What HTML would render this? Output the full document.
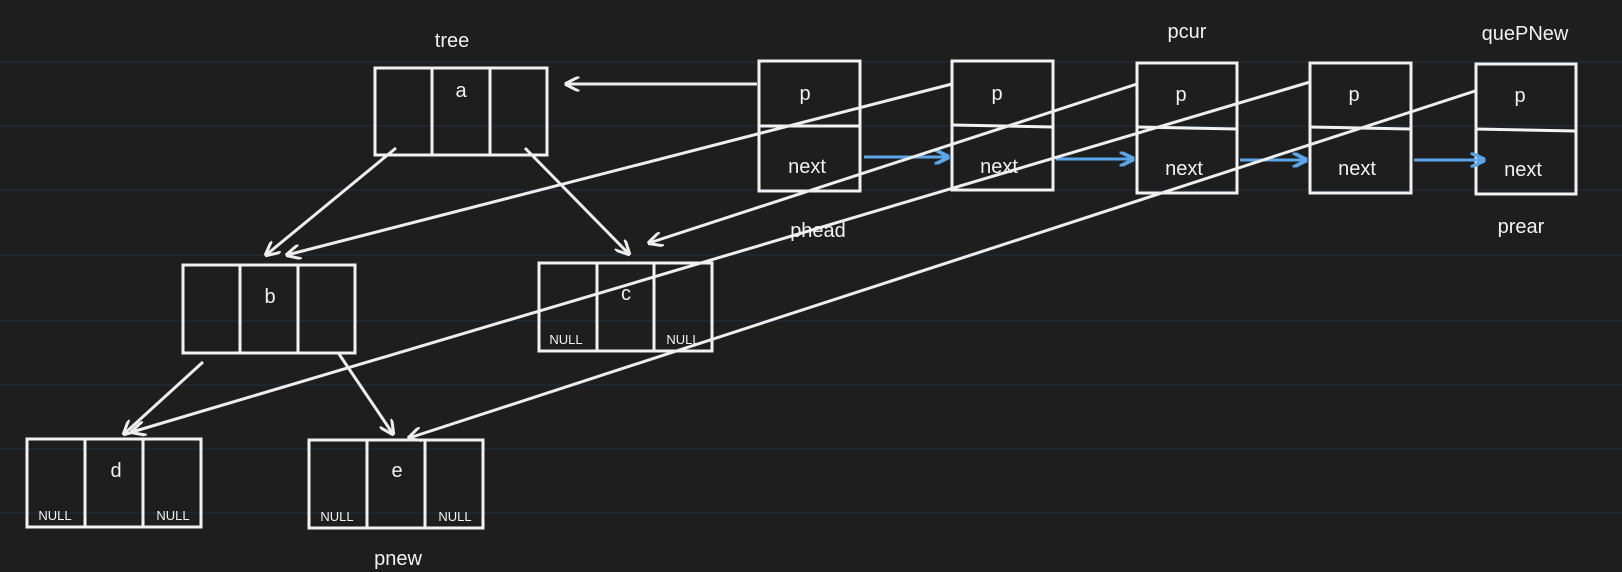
<!DOCTYPE html>
<html><head><meta charset="utf-8"><style>
html,body{margin:0;padding:0;background:#1f1e1e;}
svg{display:block;}
text{font-family:"Liberation Sans",sans-serif;fill:#f2f2f2;}
.b{fill:none;stroke:#f2f2f2;stroke-width:3;}
.l{stroke:#eeeeee;stroke-width:3;fill:none;}
.bl{stroke:#5aa6e8;stroke-width:3;fill:none;}
.g{stroke:#1b3347;stroke-width:1;}
</style></head><body>
<svg width="1622" height="572" viewBox="0 0 1622 572">
<defs>
<marker id="aw" viewBox="0 0 10 10" refX="9" refY="5" markerWidth="5" markerHeight="5" orient="auto"><path d="M0,0 L10,5 L0,10" fill="none" stroke="#eee" stroke-width="2"/></marker>
<marker id="ab" viewBox="0 0 10 10" refX="9" refY="5" markerWidth="5" markerHeight="5" orient="auto"><path d="M0,0 L10,5 L0,10" fill="none" stroke="#5aa6e8" stroke-width="2.5"/></marker>
</defs>
<g>
<line class="g" x1="0" x2="1622" y1="62" y2="62"/><line class="g" x1="0" x2="1622" y1="126" y2="126"/>
<line class="g" x1="0" x2="1622" y1="190" y2="190"/><line class="g" x1="0" x2="1622" y1="255" y2="255"/>
<line class="g" x1="0" x2="1622" y1="321" y2="321"/><line class="g" x1="0" x2="1622" y1="385" y2="385"/>
<line class="g" x1="0" x2="1622" y1="449" y2="449"/><line class="g" x1="0" x2="1622" y1="513" y2="513"/>
</g>
<g>
<g><rect class="b" x="375" y="68" width="172" height="87"/><line class="b" x1="432" y1="68" x2="432" y2="155"/><line class="b" x1="490" y1="68" x2="490" y2="155"/><text x="461" y="97" font-size="20" text-anchor="middle">a</text></g>
<g><rect class="b" x="183" y="265" width="172" height="88"/><line class="b" x1="240" y1="265" x2="240" y2="353"/><line class="b" x1="298" y1="265" x2="298" y2="353"/><text x="270" y="303" font-size="20" text-anchor="middle">b</text></g>
<g><rect class="b" x="539" y="263" width="173" height="88"/><line class="b" x1="597" y1="263" x2="597" y2="351"/><line class="b" x1="654" y1="263" x2="654" y2="351"/><text x="626" y="300" font-size="20" text-anchor="middle">c</text><text x="566" y="344" font-size="13" text-anchor="middle">NULL</text><text x="683" y="344" font-size="13" text-anchor="middle">NULL</text></g>
<g><rect class="b" x="27" y="439" width="174" height="88"/><line class="b" x1="85" y1="439" x2="85" y2="527"/><line class="b" x1="143" y1="439" x2="143" y2="527"/><text x="116" y="477" font-size="20" text-anchor="middle">d</text><text x="55" y="520" font-size="13" text-anchor="middle">NULL</text><text x="173" y="520" font-size="13" text-anchor="middle">NULL</text></g>
<g><rect class="b" x="309" y="440" width="174" height="88"/><line class="b" x1="367" y1="440" x2="367" y2="528"/><line class="b" x1="425" y1="440" x2="425" y2="528"/><text x="397" y="477" font-size="20" text-anchor="middle">e</text><text x="337" y="521" font-size="13" text-anchor="middle">NULL</text><text x="455" y="521" font-size="13" text-anchor="middle">NULL</text></g>
</g>
<g>
<line class="l" x1="396" y1="148" x2="266" y2="255" marker-end="url(#aw)"/>
<line class="l" x1="525" y1="148" x2="629" y2="254" marker-end="url(#aw)"/>
<line class="l" x1="203" y1="362" x2="124" y2="434" marker-end="url(#aw)"/>
<line class="l" x1="339" y1="354" x2="393" y2="434" marker-end="url(#aw)"/>
</g>
<g>
<g><rect class="b" x="759" y="61" width="101" height="130"/><line class="b" x1="759" y1="126" x2="860" y2="126"/><text x="805" y="100" font-size="20" text-anchor="middle">p</text><text x="807" y="173" font-size="20" text-anchor="middle">next</text></g>
<g><rect class="b" x="952" y="61" width="101" height="129"/><line class="b" x1="952" y1="125" x2="1053" y2="127"/><text x="997" y="100" font-size="20" text-anchor="middle">p</text><text x="999" y="173" font-size="20" text-anchor="middle">next</text></g>
<g><rect class="b" x="1137" y="63" width="100" height="130"/><line class="b" x1="1137" y1="127" x2="1237" y2="129"/><text x="1181" y="101" font-size="20" text-anchor="middle">p</text><text x="1184" y="175" font-size="20" text-anchor="middle">next</text></g>
<g><rect class="b" x="1310" y="63" width="101" height="130"/><line class="b" x1="1310" y1="127" x2="1411" y2="129"/><text x="1354" y="101" font-size="20" text-anchor="middle">p</text><text x="1357" y="175" font-size="20" text-anchor="middle">next</text></g>
<g><rect class="b" x="1476" y="64" width="100" height="130"/><line class="b" x1="1476" y1="129" x2="1576" y2="131"/><text x="1520" y="102" font-size="20" text-anchor="middle">p</text><text x="1523" y="176" font-size="20" text-anchor="middle">next</text></g>
</g>
<g>
<line class="bl" x1="864" y1="157" x2="948" y2="157" marker-end="url(#ab)"/>
<line class="bl" x1="1056" y1="159" x2="1133" y2="159" marker-end="url(#ab)"/>
<line class="bl" x1="1240" y1="160" x2="1306" y2="160" marker-end="url(#ab)"/>
<line class="bl" x1="1414" y1="160" x2="1484" y2="160" marker-end="url(#ab)"/>
</g>
<g>
<line class="l" x1="757" y1="84" x2="566" y2="84" marker-end="url(#aw)"/>
<line class="l" x1="952" y1="84" x2="287" y2="255" marker-end="url(#aw)"/>
<line class="l" x1="1137" y1="84" x2="649" y2="243" marker-end="url(#aw)"/>
<line class="l" x1="1310" y1="82" x2="132" y2="432" marker-end="url(#aw)"/>
<line class="l" x1="1475" y1="91" x2="409" y2="438" marker-end="url(#aw)"/>
</g>
<g>
<text x="452" y="47" font-size="20" text-anchor="middle">tree</text>
<text x="1187" y="38" font-size="20" text-anchor="middle">pcur</text>
<text x="1525" y="40" font-size="20" text-anchor="middle">quePNew</text>
<text x="818" y="237" font-size="20" text-anchor="middle">phead</text>
<text x="1521" y="233" font-size="20" text-anchor="middle">prear</text>
<text x="398" y="565" font-size="20" text-anchor="middle">pnew</text>
</g>
</svg>
</body></html>
